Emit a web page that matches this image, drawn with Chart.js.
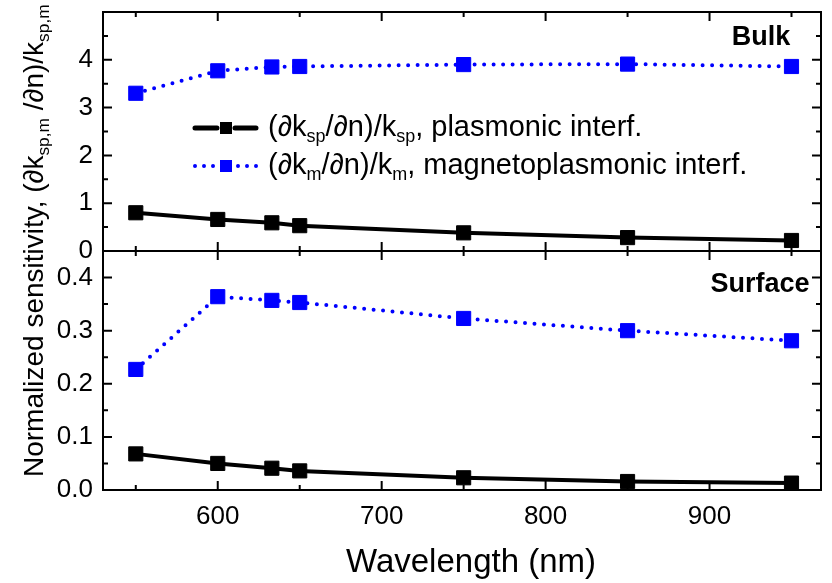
<!DOCTYPE html>
<html>
<head>
<meta charset="utf-8">
<script src="https://cdn.jsdelivr.net/npm/chart.js@4.4.1/dist/chart.umd.min.js"></script>
<style>
  html, body { margin: 0; padding: 0; background: #fff; }
  #wrap { width: 832px; height: 583px; position: relative; }
</style>
</head>
<body>
<div id="wrap"><canvas id="c"></canvas></div>
<script>
// ---- data ----
const wavelengths = [550, 600, 633, 650, 750, 850, 950];
const bulkPlasmonic = [0.80, 0.66, 0.59, 0.53, 0.38, 0.28, 0.22];
const bulkMagneto = [3.30, 3.77, 3.85, 3.86, 3.90, 3.91, 3.86];
const surfPlasmonic = [0.068, 0.050, 0.041, 0.036, 0.023, 0.016, 0.013];
const surfMagneto = [0.227, 0.364, 0.357, 0.353, 0.323, 0.300, 0.281];
const panelLabels = ['Bulk', 'Surface'];
const legendRows = [
  [{t: '(\u2202k'}, {t: 'sp', sub: true}, {t: '/\u2202n)/k'}, {t: 'sp', sub: true}, {t: ', plasmonic interf.'}],
  [{t: '(\u2202k'}, {t: 'm', sub: true}, {t: '/\u2202n)/k'}, {t: 'm', sub: true}, {t: ', magnetoplasmonic interf.'}]
];
const yTitle = [{t: 'Normalized sensitivity, (\u2202k'}, {t: 'sp,m', sub: true}, {t: ' /\u2202n)/k'}, {t: 'sp,m', sub: true}];
const xTitle = 'Wavelength (nm)';

const FONT = "'Liberation Sans', Arial, Helvetica, sans-serif";
Chart.defaults.font.family = FONT;
Chart.defaults.color = '#000';

const toXY = (ys) => wavelengths.map((x, i) => ({x: x, y: ys[i]}));

function drawRich(ctx, x, y, segs, size) {
  for (const s of segs) {
    const fs = s.sub ? size * 0.62 : size;
    ctx.font = fs + 'px ' + FONT;
    ctx.fillText(s.t, x, y + (s.sub ? size * 0.2 : 0));
    x += ctx.measureText(s.t).width;
  }
  return x;
}

const decor = {
  id: 'decor',
  afterDraw(chart) {
    const ctx = chart.ctx;
    const a = chart.chartArea;
    const xs = chart.scales.x, yt = chart.scales.yTop, yb = chart.scales.yBot;
    const mid = yt.bottom;
    ctx.save();
    ctx.strokeStyle = '#000';
    ctx.lineWidth = 2;
    ctx.lineCap = 'butt';
    ctx.strokeRect(a.left, a.top, a.right - a.left, a.bottom - a.top);
    ctx.beginPath(); ctx.moveTo(a.left, mid); ctx.lineTo(a.right, mid); ctx.stroke();
    ctx.beginPath();
    for (const t of xs.ticks) {
      const px = xs.getPixelForValue(t.value);
      const len = (t.value % 100 === 0) ? 9 : 5;
      ctx.moveTo(px, a.bottom); ctx.lineTo(px, a.bottom - len);
      ctx.moveTo(px, mid - len); ctx.lineTo(px, mid + len);
      ctx.moveTo(px, a.top); ctx.lineTo(px, a.top + len);
    }
    for (const t of yt.ticks) {
      if (t.value <= 0 || t.value >= yt.max) continue;
      const py = yt.getPixelForValue(t.value);
      const len = Number.isInteger(t.value) ? 9 : 5;
      ctx.moveTo(a.left, py); ctx.lineTo(a.left + len, py);
      ctx.moveTo(a.right, py); ctx.lineTo(a.right - len, py);
    }
    for (const t of yb.ticks) {
      if (t.value <= 0 || t.value >= yb.max - 1e-9) continue;
      const py = yb.getPixelForValue(t.value);
      const len = (Math.round(t.value * 100) % 10 === 0) ? 9 : 5;
      ctx.moveTo(a.left, py); ctx.lineTo(a.left + len, py);
      ctx.moveTo(a.right, py); ctx.lineTo(a.right - len, py);
    }
    ctx.stroke();

    // panel labels
    ctx.fillStyle = '#000';
    ctx.textAlign = 'center';
    ctx.textBaseline = 'alphabetic';
    ctx.font = 'bold 27px ' + FONT;
    ctx.fillText(panelLabels[0], 761, 45);
    ctx.fillText(panelLabels[1], 760, 292);

    // legend
    ctx.textAlign = 'left';
    const rows = [{y: 128, color: '#000', dotted: false}, {y: 166, color: '#0000ff', dotted: true}];
    rows.forEach((r, i) => {
      ctx.strokeStyle = r.color; ctx.fillStyle = r.color;
      ctx.lineWidth = r.dotted ? 4 : 5;
      if (r.dotted) { ctx.setLineDash([0, 9]); ctx.lineCap = 'round'; } else { ctx.setLineDash([]); ctx.lineCap = 'round'; }
      ctx.beginPath();
      if (r.dotted) {
        ctx.moveTo(195, r.y); ctx.lineTo(216, r.y);
        ctx.moveTo(238, r.y); ctx.lineTo(259, r.y);
      } else {
        ctx.moveTo(195, r.y); ctx.lineTo(217, r.y);
        ctx.moveTo(235, r.y); ctx.lineTo(256, r.y);
      }
      ctx.stroke();
      ctx.setLineDash([]);
      ctx.fillRect(220, r.y - 6, 12, 12);
      ctx.fillStyle = '#000';
      drawRich(ctx, 268, r.y + 8, legendRows[i], 29);
    });

    // axis titles
    ctx.fillStyle = '#000';
    ctx.save();
    ctx.translate(43, 477);
    ctx.rotate(-Math.PI / 2);
    drawRich(ctx, 0, 0, yTitle, 28);
    ctx.restore();
    ctx.textAlign = 'center';
    ctx.font = '33px ' + FONT;
    ctx.fillText(xTitle, 471, 572);
    ctx.restore();
  }
};

const lineBlack = {
  borderColor: '#000', backgroundColor: '#000', borderWidth: 4,
  pointStyle: 'rect', pointRadius: 10, pointBorderWidth: 1, pointHoverRadius: 10,
  pointBackgroundColor: '#000', pointBorderColor: '#000', fill: false, tension: 0
};
const lineBlue = {
  borderColor: '#0000ff', backgroundColor: '#0000ff', borderWidth: 4,
  borderDash: [0, 9.5], borderCapStyle: 'round',
  pointStyle: 'rect', pointRadius: 10, pointBorderWidth: 1, pointHoverRadius: 10,
  pointBackgroundColor: '#0000ff', pointBorderColor: '#0000ff', fill: false, tension: 0
};

const noPadY = (s) => { s.width = 103; s.paddingTop = 0; s.paddingBottom = 0; };

new Chart(document.getElementById('c'), {
  type: 'line',
  data: {
    datasets: [
      Object.assign({label: 'bulk plasmonic', data: toXY(bulkPlasmonic), yAxisID: 'yTop'}, lineBlack),
      Object.assign({label: 'bulk magnetoplasmonic', data: toXY(bulkMagneto), yAxisID: 'yTop'}, lineBlue),
      Object.assign({label: 'surface plasmonic', data: toXY(surfPlasmonic), yAxisID: 'yBot'}, lineBlack),
      Object.assign({label: 'surface magnetoplasmonic', data: toXY(surfMagneto), yAxisID: 'yBot'}, lineBlue)
    ]
  },
  options: {
    responsive: true,
    maintainAspectRatio: false,
    animation: false,
    devicePixelRatio: 1,
    layout: { padding: { top: 12, right: 3, left: 0, bottom: 0 } },
    plugins: { legend: { display: false }, tooltip: { enabled: false }, title: { display: false } },
    scales: {
      x: {
        type: 'linear', position: 'bottom', min: 530, max: 968,
        grid: { display: false, drawTicks: false },
        border: { display: false },
        ticks: {
          stepSize: 50, includeBounds: false, padding: 11, maxRotation: 0, autoSkip: false,
          font: { size: 26 },
          callback: (v) => (v % 100 === 0 ? String(v) : '')
        },
        afterFit: (s) => { s.height = 93; s.paddingLeft = 0; s.paddingRight = 0; }
      },
      yBot: {
        type: 'linear', position: 'left', stack: 'panels', stackWeight: 1,
        min: 0, max: 0.45,
        grid: { display: false, drawTicks: false },
        border: { display: false },
        ticks: {
          stepSize: 0.05, includeBounds: false, padding: 10, autoSkip: false,
          font: { size: 26 },
          callback: (v) => {
            const k = Math.round(v * 100);
            return (k % 10 === 0 && k <= 40) ? (k / 100).toFixed(1) : '';
          }
        },
        afterFit: noPadY
      },
      yTop: {
        type: 'linear', position: 'left', stack: 'panels', stackWeight: 1,
        min: 0, max: 5,
        grid: { display: false, drawTicks: false },
        border: { display: false },
        ticks: {
          stepSize: 0.5, includeBounds: false, padding: 10, autoSkip: false,
          font: { size: 26 },
          callback: (v) => (Number.isInteger(v) && v < 5 ? String(v) : '')
        },
        afterFit: noPadY
      }
    }
  },
  plugins: [decor]
});
</script>
</body>
</html>
